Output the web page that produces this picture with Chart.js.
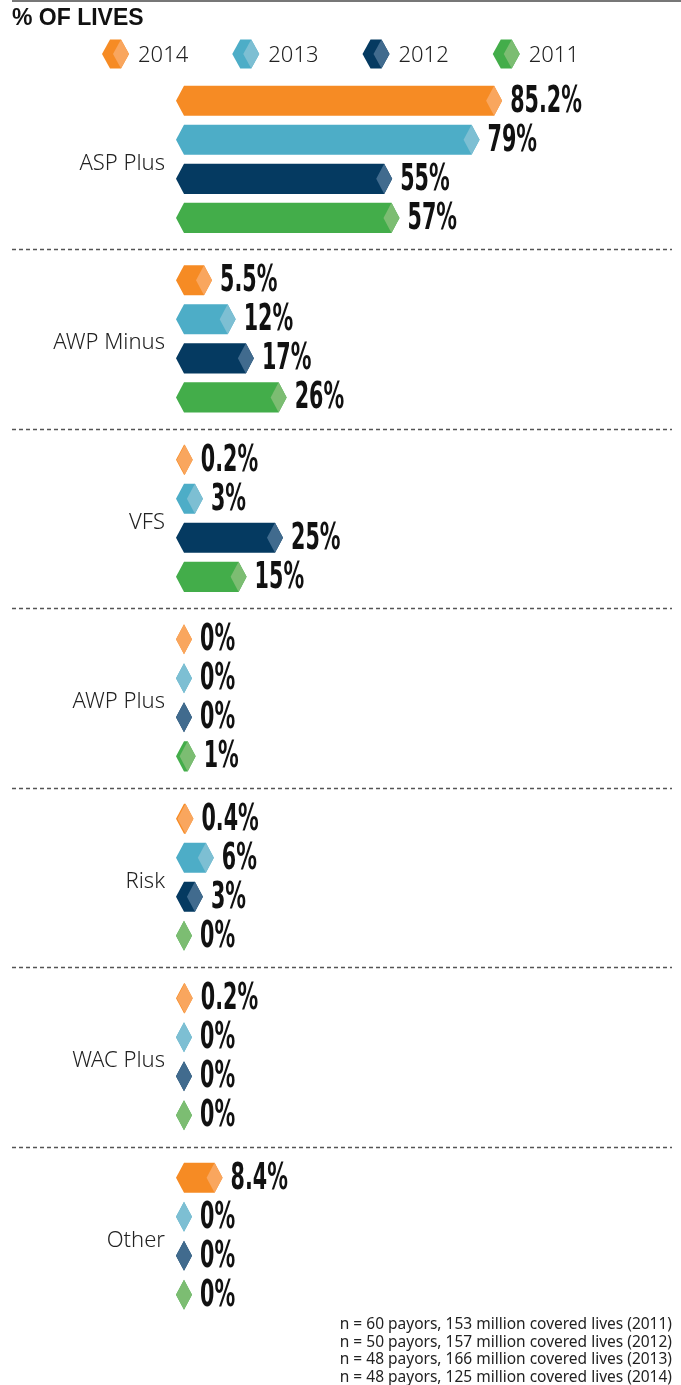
<!DOCTYPE html>
<html>
<head>
<meta charset="utf-8">
<script src="https://cdn.jsdelivr.net/npm/chart.js@4.4.1/dist/chart.umd.min.js"></script>
<style>
  html, body { margin: 0; padding: 0; background: #fff; }
</style>
</head>
<body>
<canvas id="livesChart" width="681" height="1385"></canvas>
<script>
const categories = ['ASP Plus', 'AWP Minus', 'VFS', 'AWP Plus', 'Risk', 'WAC Plus', 'Other'];
const years = ['2014', '2013', '2012', '2011'];
const values2014 = [85.2, 5.5, 0.2, 0, 0.4, 0.2, 8.4];
const values2013 = [79, 12, 3, 0, 6, 0, 0];
const values2012 = [55, 17, 25, 0, 3, 0, 0];
const values2011 = [57, 26, 15, 1, 0, 0, 0];
const footnotes = [
  'n = 60 payors, 153 million covered lives (2011)',
  'n = 50 payors, 157 million covered lives (2012)',
  'n = 48 payors, 166 million covered lives (2013)',
  'n = 48 payors, 125 million covered lives (2014)'
];

const darkColors = ['#F68B24', '#4DADC7', '#053A61', '#43AD4A'];
const lightColors = ['#F9A65E', '#7DBFD3', '#416B8E', '#7CBD72'];
// condensed look: DejaVu Sans Condensed stretched up
const valueFont = 'bold 25px "DejaVu Sans Condensed", "DejaVu Sans", sans-serif';

// hexagon bar: dark body, light diamond at the tip
function hexBar(ctx, left, tip, yc, h, dark, light) {
  const t = yc - h / 2, b = yc + h / 2, p = 8;
  ctx.fillStyle = dark;
  ctx.beginPath();
  ctx.moveTo(left, yc);
  ctx.lineTo(left + p, t);
  ctx.lineTo(tip - p, t);
  ctx.lineTo(tip, yc);
  ctx.lineTo(tip - p, b);
  ctx.lineTo(left + p, b);
  ctx.closePath();
  ctx.fill();
  ctx.fillStyle = light;
  ctx.beginPath();
  ctx.moveTo(tip - 2 * p, yc);
  ctx.lineTo(tip - p, t);
  ctx.lineTo(tip, yc);
  ctx.lineTo(tip - p, b);
  ctx.closePath();
  ctx.fill();
}

const hexPlugin = {
  id: 'hexBars',
  beforeDraw(chart) {
    const ctx = chart.ctx;
    ctx.save();
    ctx.fillStyle = '#777';
    ctx.fillRect(12, 0, 669, 2);
    ctx.restore();
  },
  beforeDatasetsDraw(chart) {
    const ctx = chart.ctx;
    const yScale = chart.scales.y;
    ctx.save();
    ctx.strokeStyle = '#555';
    ctx.lineWidth = 1.5;
    ctx.setLineDash([4, 3]);
    for (let i = 0; i < categories.length - 1; i++) {
      const yy = Math.round((yScale.getPixelForValue(i) + yScale.getPixelForValue(i + 1)) / 2) + 0.5;
      ctx.beginPath();
      ctx.moveTo(12, yy);
      ctx.lineTo(672, yy);
      ctx.stroke();
    }
    ctx.restore();
  },
  afterDatasetsDraw(chart) {
    const ctx = chart.ctx;
    ctx.save();
    chart.data.datasets.forEach((ds, i) => {
      const meta = chart.getDatasetMeta(i);
      meta.data.forEach((bar, j) => {
        const {x, y, base, height} = bar.getProps(['x', 'y', 'base', 'height'], true);
        hexBar(ctx, base - 16, x, y, height, darkColors[i], lightColors[i]);
        ctx.save();
        ctx.translate(x + 8, y + 11);
        ctx.scale(0.92, 1.48);
        ctx.font = valueFont;
        ctx.fillStyle = '#111';
        ctx.textAlign = 'left';
        ctx.textBaseline = 'alphabetic';
        ctx.fillText(ds.data[j] + '%', 0, 0);
        ctx.restore();
      });
    });
    ctx.restore();
  },
  afterDraw(chart) {
    const ctx = chart.ctx;
    ctx.save();
    // legend row
    ctx.font = '300 22px "Noto Sans", sans-serif';
    ctx.textBaseline = 'middle';
    ctx.textAlign = 'left';
    const widths = years.map(t => ctx.measureText(t).width);
    const gap = 44;
    const total = widths.reduce((s, w) => s + 36 + w, 0) + gap * (years.length - 1);
    let lx = (chart.width - total) / 2;
    years.forEach((t, i) => {
      hexBar(ctx, lx, lx + 27, 54, 29, darkColors[i], lightColors[i]);
      ctx.fillStyle = '#222';
      ctx.fillText(t, lx + 36, 56);
      lx += 36 + widths[i] + gap;
    });
    // footnotes
    ctx.font = '15.5px "Noto Sans", sans-serif';
    ctx.textAlign = 'right';
    ctx.textBaseline = 'alphabetic';
    ctx.fillStyle = '#222';
    footnotes.forEach((t, i) => ctx.fillText(t, 672, 1329 + i * 17.5));
    ctx.restore();
  }
};

const datasets = [values2014, values2013, values2012, values2011].map((vals, i) => ({
  label: years[i],
  data: vals,
  backgroundColor: 'rgba(0,0,0,0)',
  borderWidth: 0,
  categoryPercentage: 0.87,
  barPercentage: 0.77
}));

new Chart(document.getElementById('livesChart'), {
  type: 'bar',
  data: { labels: categories, datasets },
  plugins: [hexPlugin],
  options: {
    indexAxis: 'y',
    responsive: false,
    animation: false,
    devicePixelRatio: 1,
    events: [],
    layout: { padding: { left: 12, right: 125, top: 0, bottom: 59 } },
    plugins: {
      legend: { display: false },
      tooltip: { enabled: false },
      title: {
        display: true,
        text: '% OF LIVES',
        align: 'start',
        color: '#111',
        font: { family: '"Liberation Sans", Arial, sans-serif', size: 23, weight: 'bold' },
        padding: { top: 5, bottom: 37 }
      }
    },
    scales: {
      x: { display: false, min: 0, max: 100 },
      y: {
        grid: { display: false, drawTicks: false },
        border: { display: false },
        ticks: {
          color: '#222',
          padding: 27,
          labelOffset: 4,
          font: { family: '"Noto Sans", sans-serif', size: 22, weight: 300 }
        },
        afterFit(scale) { scale.width = 180; }
      }
    }
  }
});
</script>
</body>
</html>
